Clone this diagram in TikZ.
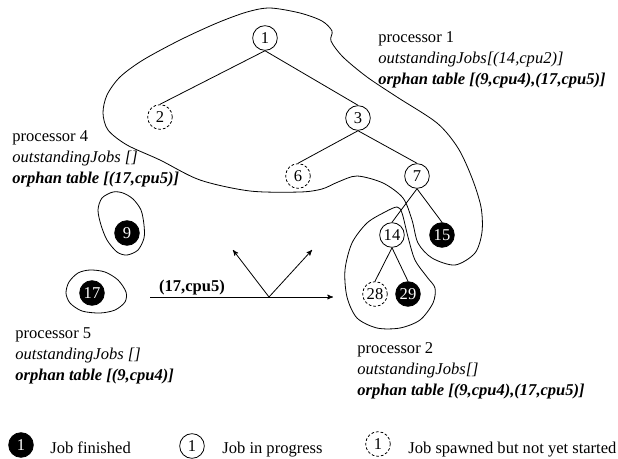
\documentclass[tikz,border=0pt]{standalone}
\usepackage{fontspec}
\setmainfont{Liberation Serif}
\usepackage{tikz}
\usetikzlibrary{arrows,calc}

\begin{document}
\begin{tikzpicture}[x=0.75pt,y=-0.75pt,>=stealth',semithick,font=\fontsize{12.4}{15.75}\selectfont]
\tikzstyle{job}=[circle,draw,minimum size=18.5pt,inner sep=0pt]
\tikzstyle{running}=[job]
\tikzstyle{finished}=[job,fill=black,text=white]
\tikzstyle{spawned}=[job,dash pattern=on 2pt off 1.5pt]
\tikzstyle{info}=[align=left,anchor=west,inner sep=0pt]
\tikzstyle{key}=[anchor=base west,inner sep=0pt]

\useasboundingbox (0,0) rectangle (618,458);

% the job tree
\node[running] (job1) at (265,38) {1};
\node[spawned] (job2) at (160,117) {2};
\node[running] (job3) at (358,118) {3};
\node[spawned] (job6) at (298,176) {6};
\node[running] (job7) at (417,176) {7};
\node[running] (job14) at (392,235) {14};
\node[finished] (job15) at (442,235) {15};
\node[spawned] (job28) at (375,294) {28};
\node[finished] (job29) at (408,294) {29};
\node[finished] (job9) at (127,233) {9};
\node[finished] (job17) at (92,293) {17};

\path
	(job1.south) edge (job2.north)
	(job1.south) edge (job3.north)
	(job3.south) edge (job6.north)
	(job3.south) edge (job7.north)
	(job7.south) edge (job14.north)
	(job7.south) edge (job15.north)
	(job14.south) edge (job28.north)
	(job14.south) edge (job29.north);

% processor regions
\draw plot[smooth cycle] coordinates {(270,8) (300,13) (322,21) (332,31) (331,41) (343,57) (367,77) (397,97) (437,123) (458,148) (472,178) (481,207) (482,232) (475,253) (455,265) (432,258) (418,243) (412,220) (403,198) (383,183) (357,176) (338,182) (322,189) (300,192) (250,191) (200,180) (160,160) (127,145) (108,130) (103,113) (107,95) (120,77) (143,60) (180,40) (217,23) (247,12)};
\draw plot[smooth cycle] coordinates {(397,207) (402,213) (408,237) (415,260) (427,277) (435,288) (433,303) (420,320) (400,328) (377,328) (357,318) (347,297) (345,270) (352,243) (367,223) (385,212)};
\draw plot[smooth cycle] coordinates {(113,192) (123,193) (133,199) (141,210) (144,225) (144,238) (138,250) (127,255) (117,252) (107,240) (101,225) (98,210) (102,198)};
\draw plot[smooth cycle] coordinates {(66,293) (69,282) (78,273) (90,270) (105,272) (118,280) (126,292) (125,302) (115,310) (100,313) (82,311) (70,303)};

% processor state
\node[info] (proc1) at (378,60) {processor 1\\ \textit{outstandingJobs[(14,cpu2)]}\\ \textbf{\textit{orphan table [(9,cpu4),(17,cpu5)]}}};
\node[info] (proc4) at (12,159) {processor 4\\ \textit{outstandingJobs []}\\ \textbf{\textit{orphan table [(17,cpu5)]}}};
\node[info] (proc5) at (15,356) {processor 5\\ \textit{outstandingJobs []}\\ \textbf{\textit{orphan table [(9,cpu4)]}}};
\node[info] (proc2) at (357,371) {processor 2\\ \textit{outstandingJobs[]}\\ \textbf{\textit{orphan table [(9,cpu4),(17,cpu5)]}}};

% message
\coordinate (msgFrom) at (150,297);
\coordinate (msgTo) at (333,297);
\coordinate (bounce) at (269,297);
\coordinate (bounceL) at (233,250);
\coordinate (bounceR) at (312,250);
\draw[->] (msgFrom) -- (msgTo);
\draw[->] (bounce) -- (bounceL);
\draw[->] (bounce) -- (bounceR);
\node (msg) at (192,288) {\textbf{(17,cpu5)}};

% legend
\node[finished] (keyDone) at (21,445) {1};
\node[key] (keyDoneText) at (50,453) {Job finished};
\node[running] (keyRun) at (192,446) {1};
\node[key] (keyRunText) at (222,453) {Job in progress};
\node[spawned] (keySpawn) at (378,444) {1};
\node[key] (keySpawnText) at (408,453) {Job spawned but not yet started};
\end{tikzpicture}
\end{document}
